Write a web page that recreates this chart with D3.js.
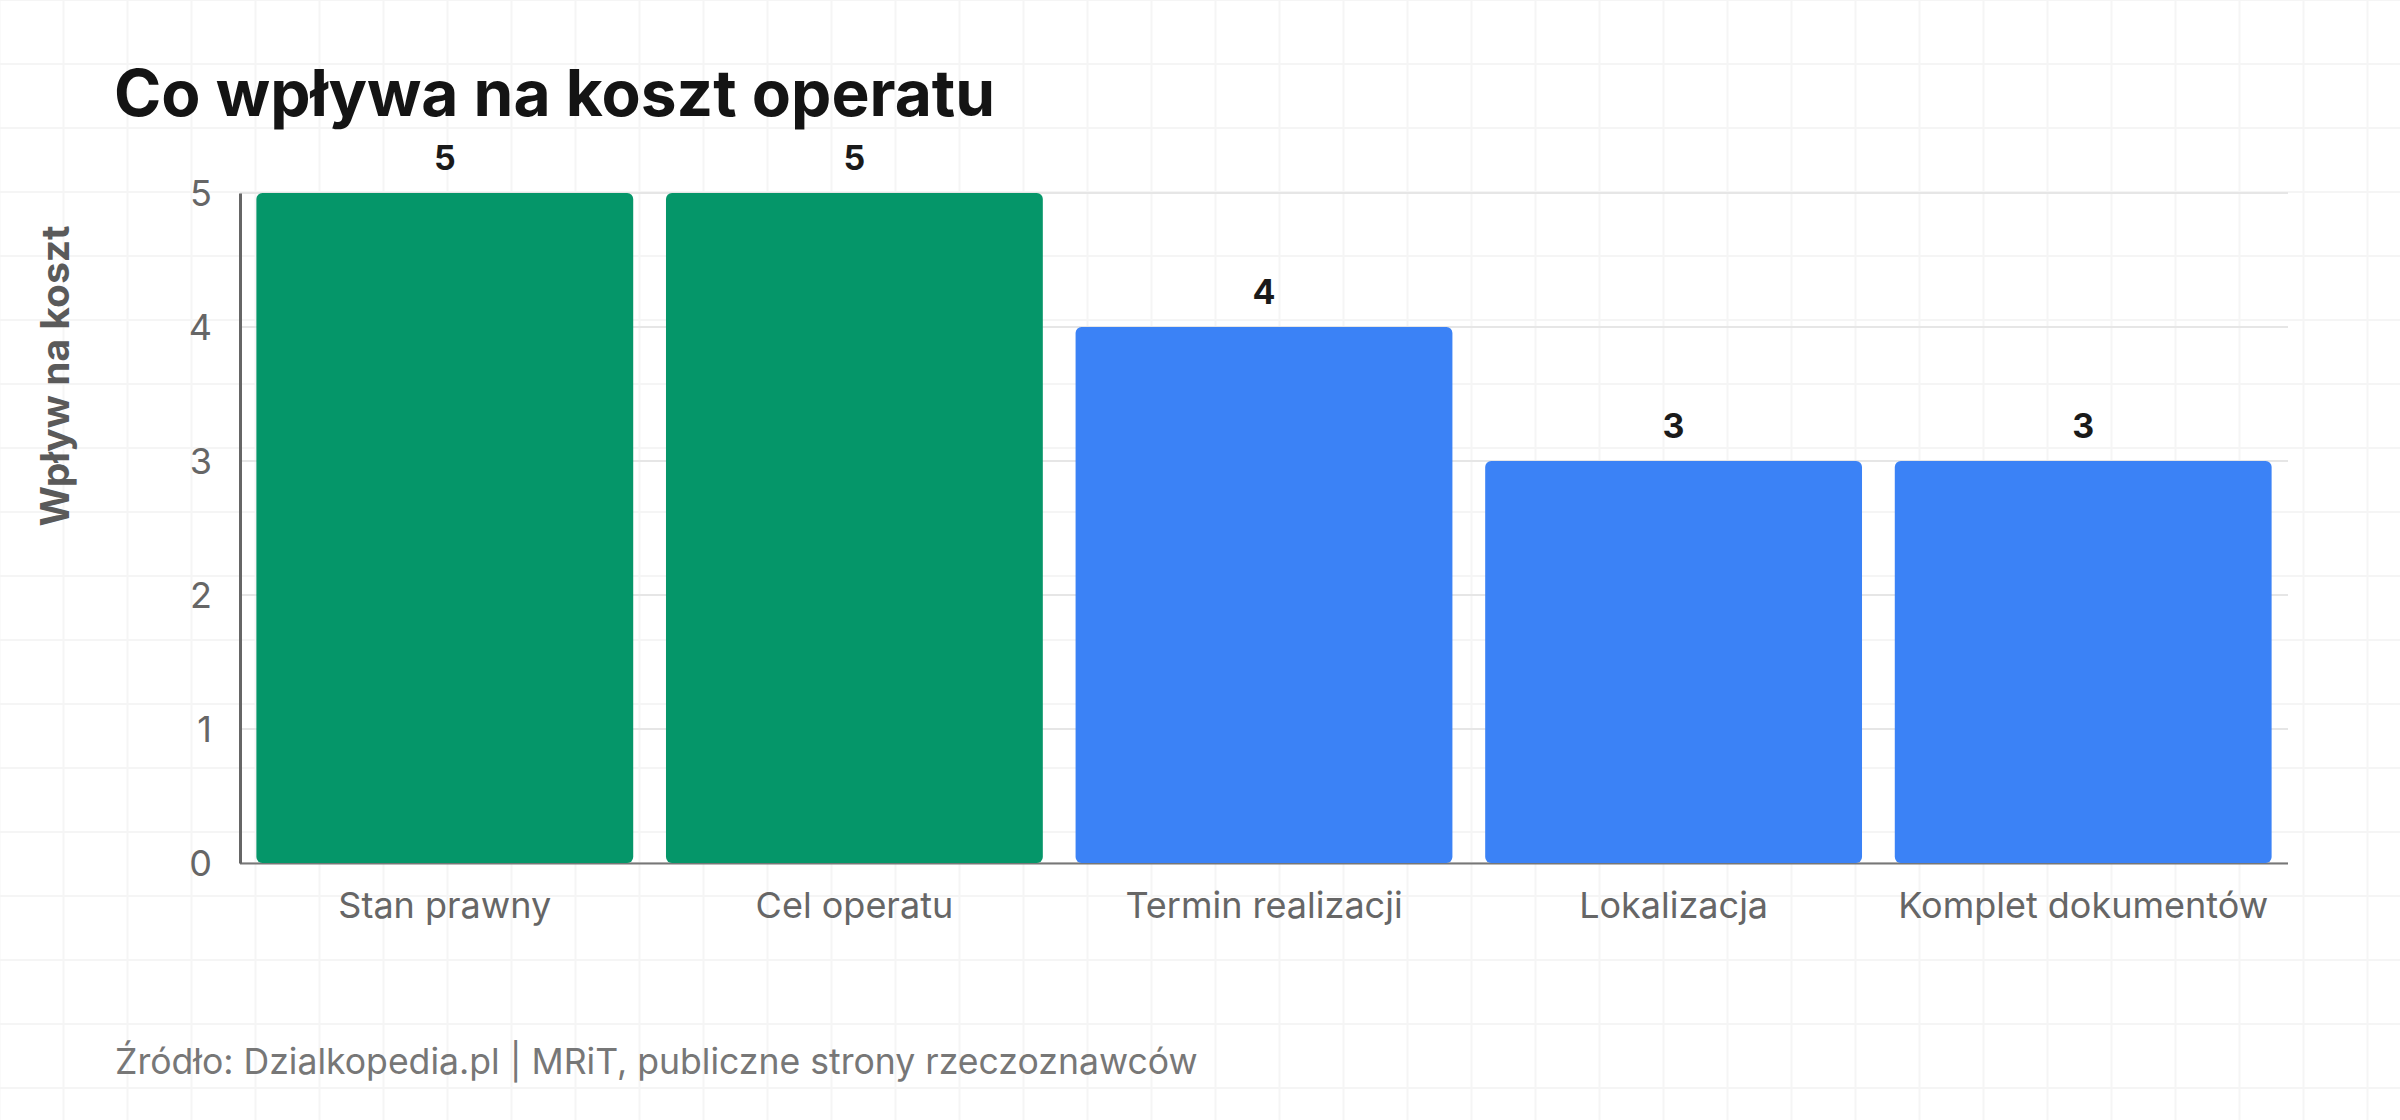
<!DOCTYPE html>
<html><head><meta charset="utf-8">
<script src="https://cdn.jsdelivr.net/npm/d3@7"></script>
<style>html,body{margin:0;padding:0;background:#fff;}svg{display:block;}</style>
</head><body>
<script>
const categories = ["Stan prawny","Cel operatu","Termin realizacji","Lokalizacja","Komplet dokumentów"];
const values = [5,5,4,3,3];
const highlight = [true,true,false,false,false];
const yTicks = [0,1,2,3,4,5];
const title = "Co wpływa na koszt operatu";
const yTitle = "Wpływ na koszt";
const source = "Źródło: Dzialkopedia.pl | MRiT, publiczne strony rzeczoznawców";

const W = 2400, H = 1120;
const m = {left:240, right:112, top:193, bottom:257};
const svg = d3.select("body").append("svg").attr("width",W).attr("height",H)
  .style("font-family","Inter, 'Noto Sans', sans-serif");

// background grid
const bg = svg.append("g");
bg.selectAll("line.v").data(d3.range(0, W+1, 64)).join("line")
  .attr("x1",d=>d-0.5).attr("x2",d=>d-0.5).attr("y1",0).attr("y2",H)
  .attr("stroke","#f5f5f5").attr("stroke-width",2);
bg.selectAll("line.h").data(d3.range(0, H+1, 64)).join("line")
  .attr("y1",d=>d).attr("y2",d=>d).attr("x1",0).attr("x2",W)
  .attr("stroke","#f5f5f5").attr("stroke-width",2);

const x = d3.scaleBand().domain(categories).range([m.left, W-m.right]).paddingInner(0.08).paddingOuter(0.04);
const y = d3.scaleLinear().domain([0,5]).range([H-m.bottom, m.top]);

// horizontal gridlines
svg.append("g").selectAll("line").data(yTicks).join("line")
  .attr("x1",m.left).attr("x2",W-m.right).attr("y1",d=>y(d)).attr("y2",d=>y(d))
  .attr("stroke","#e6e6e6").attr("stroke-width",2);

// bottom axis line
svg.append("line").attr("x1",m.left).attr("x2",W-m.right).attr("y1",y(0)+0.5).attr("y2",y(0)+0.5)
  .attr("stroke","#777").attr("stroke-width",2);

// bars
svg.append("g").selectAll("rect").data(categories).join("rect")
  .attr("x",d=>x(d)).attr("width",x.bandwidth())
  .attr("y",(d,i)=>y(values[i])).attr("height",(d,i)=>y(0)-y(values[i]))
  .attr("rx",6).attr("ry",6)
  .attr("fill",(d,i)=>highlight[i] ? "#059669" : "#3b82f6");

// value labels
svg.append("g").selectAll("text").data(categories).join("text")
  .attr("x",d=>x(d)+x.bandwidth()/2).attr("y",(d,i)=>y(values[i])-23)
  .attr("text-anchor","middle").attr("font-size",34).attr("font-weight",700).attr("fill","#1a1a1a")
  .text((d,i)=>values[i]);

// left axis
const yAxis = d3.axisLeft(y).tickValues(yTicks).tickSize(0).tickPadding(28).tickFormat(d3.format("d"));
const ya = svg.append("g").attr("transform",`translate(${m.left},0)`).call(yAxis);
ya.select(".domain").attr("stroke","#666").attr("stroke-width",3);
ya.selectAll("text").attr("font-size",36).attr("fill","#666").attr("font-family","Inter, sans-serif").attr("dy","0.36em");

// x axis labels
const xAxis = d3.axisBottom(x).tickSize(0).tickPadding(29);
const xa = svg.append("g").attr("transform",`translate(0,${y(0)})`).call(xAxis);
xa.select(".domain").remove();
xa.selectAll("text").attr("font-size",36).attr("fill","#666").attr("font-family","Inter, sans-serif");

// y title
svg.append("text").attr("transform",`translate(69,376) rotate(-90)`)
  .attr("text-anchor","middle").attr("font-size",39).attr("font-weight",700).attr("fill","#5a5a5a")
  .text(yTitle);

// title
svg.append("text").attr("x",114).attr("y",116).attr("font-size",64).attr("font-weight",700).attr("fill","#141414")
  .text(title);

// source
svg.append("text").attr("x",115).attr("y",1074).attr("font-size",35.6).attr("fill","#777")
  .text(source);
</script>
</body></html>
